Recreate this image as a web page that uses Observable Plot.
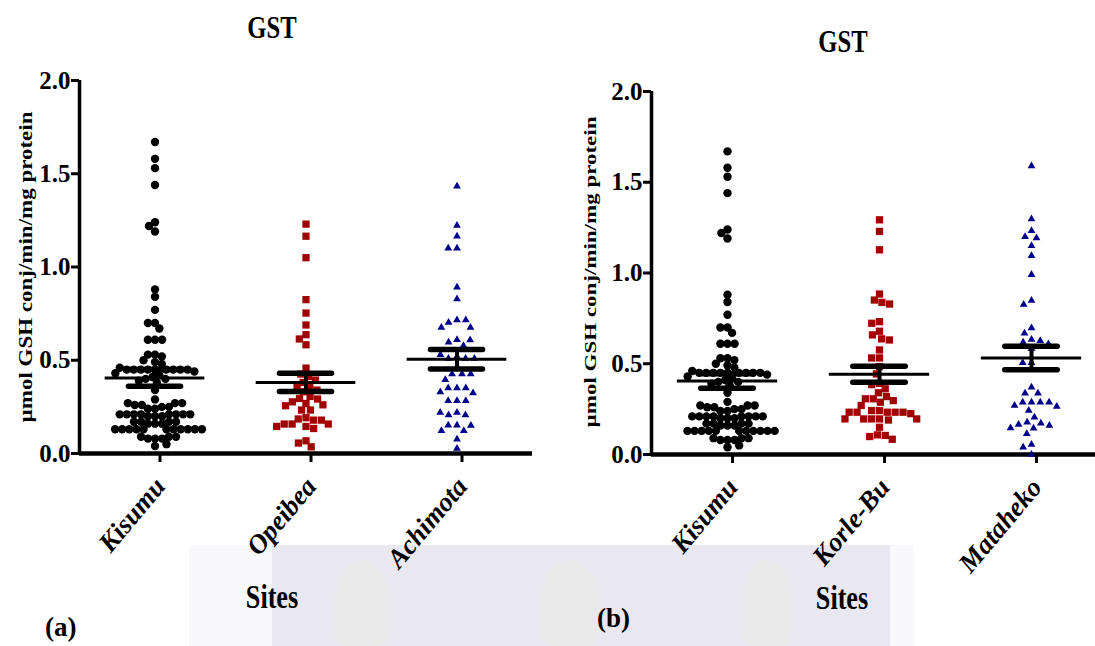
<!DOCTYPE html>
<html>
<head>
<meta charset="utf-8">
<script src="https://cdn.jsdelivr.net/npm/d3@7"></script>
<script src="https://cdn.jsdelivr.net/npm/@observablehq/plot@0.6"></script>
<style>
html, body { margin: 0; padding: 0; background: #fff; overflow: hidden; }
#root { position: relative; width: 1095px; height: 646px; overflow: hidden; font-family: "Liberation Serif", "Times New Roman", serif; }
.abs { position: absolute; }
#ov { position: absolute; left: 0; top: 0; pointer-events: none; }
</style>
</head>
<body>
<div id="root">
  <div class="abs" style="left:189px;top:545px;width:83px;height:101px;background:#f9f9fb"></div>
  <div class="abs" style="left:272px;top:545px;width:618px;height:101px;background:#e9e8f1"></div>
  <div class="abs" style="left:890px;top:545px;width:24px;height:101px;background:#f9f9fb"></div>
  <div class="abs" style="left:335px;top:560px;width:55px;height:86px;border-radius:50% 50% 20% 20%;background:#ecead9;opacity:0.3"></div>
  <div class="abs" style="left:540px;top:560px;width:60px;height:86px;border-radius:50% 50% 20% 20%;background:#ecead9;opacity:0.3"></div>
  <div class="abs" style="left:742px;top:560px;width:50px;height:86px;border-radius:50% 50% 20% 20%;background:#ecead9;opacity:0.3"></div>
  <div id="pa" class="abs" style="left:0;top:0"></div>
  <div id="pb" class="abs" style="left:560px;top:0"></div>
  <svg id="ov" width="1095" height="646"></svg>
</div>
<script>
// ---------- data ----------
const sitesA = ["Kisumu", "Opeibea", "Achimota"];
const sitesB = ["Kisumu", "Korle-Bu", "Mataheko"];

const kisumu = [
  1.67, 1.58, 1.53, 1.44, 1.24, 1.22, 1.19, 0.88, 0.84, 0.77, 0.70, 0.70, 0.67, 0.61, 0.61, 0.61,
  0.53, 0.53, 0.52, 0.50, 0.49, 0.48,
  0.45, 0.45, 0.45, 0.45, 0.45, 0.45, 0.45, 0.45, 0.45, 0.46, 0.44,
  0.43, 0.42, 0.41, 0.40, 0.40, 0.39, 0.38,
  0.34, 0.29,
  0.24, 0.24, 0.25, 0.25, 0.26, 0.26, 0.27, 0.27, 0.27,
  0.20, 0.20, 0.20, 0.21, 0.21, 0.21, 0.21, 0.21, 0.21, 0.21, 0.21,
  0.16, 0.16, 0.16, 0.17, 0.17, 0.17, 0.17,
  0.13, 0.13, 0.13, 0.13, 0.13, 0.13, 0.13, 0.13, 0.13, 0.13, 0.13,
  0.08, 0.08, 0.08, 0.09, 0.09, 0.09,
  0.05, 0.04
];
const opeibea = [
  1.23, 1.165, 1.05, 0.825, 0.753, 0.689, 0.637, 0.614, 0.583,
  0.458, 0.426, 0.413, 0.394, 0.381, 0.358, 0.354, 0.34, 0.331,
  0.306, 0.295, 0.292, 0.277, 0.268, 0.261, 0.256, 0.233, 0.233,
  0.192, 0.185, 0.179, 0.179, 0.158, 0.158, 0.158, 0.145, 0.145, 0.134,
  0.068, 0.056, 0.036
];
const achimota = [
  1.433, 1.222, 1.165, 1.10, 1.10, 0.891, 0.829,
  0.716, 0.703, 0.716, 0.676, 0.676, 0.61, 0.596, 0.578, 0.609,
  0.52, 0.51, 0.51, 0.51, 0.53, 0.465,
  0.426, 0.426, 0.426, 0.396, 0.351, 0.351, 0.351, 0.33, 0.324,
  0.283, 0.283, 0.283, 0.22, 0.206, 0.206, 0.22,
  0.152, 0.152, 0.122, 0.122, 0.15, 0.077, 0.027
];
const korleBu = [
  1.293, 1.229, 1.128, 0.884, 0.851, 0.838, 0.829, 0.732, 0.723, 0.679, 0.659, 0.637, 0.631,
  0.576, 0.532, 0.532, 0.484, 0.444, 0.392, 0.385, 0.362, 0.34,
  0.319, 0.307, 0.307, 0.297, 0.288, 0.27,
  0.242, 0.242, 0.233, 0.233, 0.233, 0.233, 0.233, 0.225,
  0.196, 0.196, 0.196, 0.196, 0.196, 0.19,
  0.15, 0.108, 0.105, 0.099, 0.084
];
const mataheko = [
  1.59, 1.297, 1.233, 1.20, 1.193, 1.15, 1.095, 0.991, 0.848, 0.826,
  0.697, 0.668, 0.633, 0.627, 0.618, 0.609, 0.582, 0.506, 0.506,
  0.37, 0.337, 0.337,
  0.288, 0.288, 0.288, 0.288, 0.27, 0.264, 0.242,
  0.205, 0.178, 0.172, 0.165, 0.16, 0.146, 0.145,
  0.114, 0.055, 0.04, 0.0
];

// mean and SEM
const meansA = [0.405, 0.381, 0.505];
const semsA  = [0.045, 0.049, 0.052];
const meansB = [0.405, 0.442, 0.532];
const semsB  = [0.040, 0.044, 0.065];

const yTicks = [0, 0.5, 1.0, 1.5, 2.0];

// ---------- styles (by group position) ----------
const groupStyle = [
  {symbol: "circle",   fill: "#000000", r: 4.2, pad: -1.3},
  {symbol: "square",   fill: "#a00000", r: 4.1, pad: -0.3},
  {symbol: "triangle", fill: "#00008b", r: 2.9, pad: 3.0}
];

function makePanel(sites, groups, means, sems, dims) {
  const stats = sites.map((s, i) => ({site: s, mean: means[i], sem: sems[i]}));
  const marks = [];
  marks.push(Plot.ruleY([0], {strokeWidth: 4.5}));
  marks.push(Plot.ruleX([sites[0]], {fx: d => d, x: () => -1, y1: 0, y2: 2, strokeWidth: 3.5}));
  sites.forEach((s, i) => {
    const st = groupStyle[i];
    const rows = groups[i].map(v => ({site: s, value: v}));
    marks.push(Plot.dot(rows, Plot.dodgeX({anchor: "middle", padding: st.pad},
      {fx: "site", y: "value", r: st.r, symbol: st.symbol, fill: st.fill, stroke: "none"})));
  });
  marks.push(Plot.ruleY(stats, {fx: "site", y: "mean", x1: -0.66, x2: 0.66, strokeWidth: 3}));
  marks.push(Plot.ruleY(stats, {fx: "site", y: d => d.mean + d.sem, x1: -0.345, x2: 0.345, strokeWidth: 5.5, strokeLinecap: "round"}));
  marks.push(Plot.ruleY(stats, {fx: "site", y: d => d.mean - d.sem, x1: -0.345, x2: 0.345, strokeWidth: 5.5, strokeLinecap: "round"}));
  marks.push(Plot.ruleX(stats, {fx: "site", x: 0, y1: d => d.mean - d.sem, y2: d => d.mean + d.sem, strokeWidth: 4}));
  marks.push(Plot.axisY({ticks: yTicks, tickFormat: d3.format(".1f"), tickSize: 8, tickPadding: 1,
    strokeWidth: 3, fontSize: 25, fontWeight: "bold", label: null}));
  marks.push(Plot.axisFx({anchor: "bottom", tickSize: 9, tickPadding: 19, dx: 5, tickRotate: -50, strokeWidth: 3,
    fontSize: 27, fontWeight: "bold", fontStyle: "italic", label: null}));
  return Plot.plot({
    width: dims.width, height: dims.height,
    marginLeft: dims.marginLeft, marginRight: dims.marginRight,
    marginTop: dims.marginTop, marginBottom: dims.marginBottom,
    style: {background: "transparent", fontFamily: "'Liberation Serif', 'Times New Roman', serif",
      color: "#000", overflow: "visible", maxWidth: "none"},
    fx: {domain: sites, padding: 0},
    x: {domain: [-1, 1], axis: null},
    y: {domain: [0, 2]},
    marks
  });
}

document.getElementById("pa").appendChild(
  makePanel(sitesA, [kisumu, opeibea, achimota], meansA, semsA,
    {width: 540, height: 600, marginLeft: 79, marginRight: 8, marginTop: 80, marginBottom: 147}));
document.getElementById("pb").appendChild(
  makePanel(sitesB, [kisumu, korleBu, mataheko], meansB, semsB,
    {width: 548, height: 600, marginLeft: 90, marginRight: 0, marginTop: 91, marginBottom: 146}));

// ---------- titles and labels ----------
const ov = d3.select("#ov");
function label(txt, x, y, size, sx, rot, anchor) {
  ov.append("text")
    .attr("transform", `translate(${x},${y}) scale(${sx},1) rotate(${rot})`)
    .attr("text-anchor", anchor)
    .attr("font-family", "'Liberation Serif', 'Times New Roman', serif")
    .attr("font-weight", "bold")
    .attr("font-size", size)
    .attr("fill", "#000")
    .text(txt);
}
const yLabel = "µmol GSH conj/min/mg protein";
label("GST", 272, 38, 32, 0.77, 0, "middle");
label("GST", 843, 52, 32, 0.77, 0, "middle");
label("Sites", 272, 608, 34, 0.77, 0, "middle");
label("Sites", 842, 609, 34, 0.77, 0, "middle");
label("(a)", 45, 636, 27, 1, 0, "start");
label("(b)", 597, 627, 27, 1, 0, "start");
label(yLabel, 32, 267, 23, 0.85, -90, "middle");
label(yLabel, 596, 272, 23, 0.75, -90, "middle");
</script>
</body>
</html>
